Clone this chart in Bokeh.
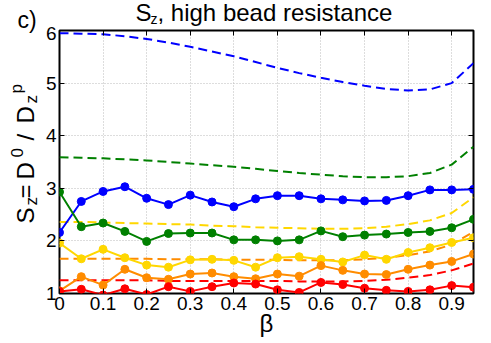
import math
from bokeh.plotting import figure
from bokeh.models import Label, LinearAxis, FixedTicker
from bokeh.layouts import row, column
from bokeh.embed import file_html
from bokeh.resources import INLINE

# ---------------- data ----------------
beta = [0.0, 0.05, 0.1, 0.15, 0.2, 0.25, 0.3, 0.35, 0.4, 0.45,
        0.5, 0.55, 0.6, 0.65, 0.7, 0.75, 0.8, 0.85, 0.9, 0.95]

# simulation (solid lines with markers)
blue_sim = [2.16, 2.75, 2.94, 3.03, 2.81, 2.69, 2.87, 2.74, 2.65, 2.80,
            2.86, 2.86, 2.80, 2.78, 2.76, 2.77, 2.86, 2.97, 2.97, 2.98]
green_sim = [2.93, 2.27, 2.34, 2.18, 1.99, 2.14, 2.15, 2.15, 2.02, 2.02,
             2.00, 2.02, 2.19, 2.08, 2.11, 2.13, 2.16, 2.18, 2.25, 2.41]
yellow_sim = [1.96, 1.66, 1.84, 1.68, 1.54, 1.50, 1.64, 1.65, 1.63, 1.50,
              1.68, 1.70, 1.65, 1.60, 1.73, 1.65, 1.78, 1.87, 1.97, 2.06]
orange_sim = [1.05, 1.32, 1.16, 1.46, 1.30, 1.27, 1.37, 1.39, 1.32, 1.28,
              1.37, 1.33, 1.53, 1.44, 1.37, 1.36, 1.46, 1.54, 1.61, 1.75]
red_sim = [1.04, 1.08, 0.97, 1.09, 0.98, 1.13, 1.04, 1.13, 1.20, 1.18,
           1.07, 1.02, 1.21, 1.17, 1.10, 1.06, 1.04, 1.07, 1.15, 1.12]

# theory (dashed lines)
blue_th = [5.95, 5.94, 5.93, 5.89, 5.84, 5.77, 5.69, 5.60, 5.51, 5.40,
           5.29, 5.19, 5.10, 5.02, 4.95, 4.89, 4.86, 4.88, 5.00, 5.38]
green_th = [3.59, 3.58, 3.57, 3.55, 3.53, 3.50, 3.47, 3.44, 3.41, 3.37,
            3.33, 3.29, 3.26, 3.23, 3.21, 3.21, 3.23, 3.29, 3.45, 3.79]
yellow_th = [2.36, 2.36, 2.35, 2.34, 2.33, 2.32, 2.31, 2.29, 2.28, 2.26,
             2.25, 2.24, 2.23, 2.23, 2.24, 2.27, 2.32, 2.39, 2.53, 2.83]
orange_th = [1.66, 1.66, 1.66, 1.66, 1.66, 1.65, 1.65, 1.65, 1.64, 1.64,
             1.64, 1.63, 1.63, 1.63, 1.65, 1.68, 1.73, 1.80, 1.93, 2.17]
red_th = [1.25, 1.25, 1.25, 1.25, 1.25, 1.24, 1.24, 1.24, 1.24, 1.24,
          1.24, 1.23, 1.23, 1.23, 1.24, 1.26, 1.30, 1.35, 1.44, 1.57]

x_ticks = [0.0, 0.1, 0.2, 0.3, 0.4, 0.5, 0.6, 0.7, 0.8, 0.9]
x_tick_labels = ["0", "0.1", "0.2", "0.3", "0.4", "0.5", "0.6", "0.7", "0.8", "0.9"]
y_ticks = [1, 2, 3, 4, 5, 6]
y_tick_labels = ["1", "2", "3", "4", "5", "6"]

colors = ["#0000ff", "#008000", "#ffd700", "#ff8c00", "#ff0000"]
sims = [blue_sim, green_sim, yellow_sim, orange_sim, red_sim]
theories = [blue_th, green_th, yellow_th, orange_th, red_th]

FONT = "Liberation Sans"

# layout geometry (page px)
LEFT_W = 41
TOP_H = 26
W, H = 491, 343
BL, BR = 18, 18          # main figure left / right borders
MID = 0.347              # middle-anchor -> baseline offset (em)

# ---------------- main figure ----------------
p = figure(width=W - LEFT_W, height=H - TOP_H, x_range=(0, 0.95), y_range=(1, 6),
           output_backend="svg", toolbar_location=None,
           min_border_left=BL, min_border_right=BR, min_border_top=30 - TOP_H,
           min_border_bottom=50)
p.background_fill_color = "white"
p.border_fill_color = "white"
p.outline_line_color = "black"
p.outline_line_width = 2
p.outline_line_alpha = 1.0

for ax, ticks, labels in ((p.xaxis[0], x_ticks, x_tick_labels), (p.yaxis[0], y_ticks, y_tick_labels)):
    ax.ticker = FixedTicker(ticks=ticks)
    ax.major_label_overrides = {t: l for t, l in zip(ticks, labels)}
    ax.major_tick_in = 5
    ax.major_tick_out = 0
    ax.major_tick_line_color = "black"
    ax.minor_tick_line_color = None
    ax.axis_line_color = None
    ax.major_label_text_font = FONT
    ax.major_label_text_font_size = "19px"
    ax.major_label_text_color = "black"
p.xaxis[0].major_label_standoff = 3
p.yaxis[0].major_label_standoff = 3
p.xaxis[0].axis_label = "\u03b2"
p.xaxis[0].axis_label_text_font = FONT
p.xaxis[0].axis_label_text_font_size = "24px"
p.xaxis[0].axis_label_text_font_style = "normal"
p.xaxis[0].axis_label_text_color = "black"
p.xaxis[0].axis_label_standoff = -3

for place, ticks in (("above", x_ticks), ("right", y_ticks)):
    ax = LinearAxis(ticker=FixedTicker(ticks=ticks), major_label_text_font_size="1px",
                    major_label_text_color=None, major_tick_in=5, major_tick_out=0,
                    minor_tick_line_color=None, axis_line_color=None,
                    major_label_standoff=0, major_tick_line_color="black")
    p.add_layout(ax, place)

for g in (p.xgrid[0], p.ygrid[0]):
    g.grid_line_color = "#bbbbbb"
    g.grid_line_dash = "1 2"
    g.grid_line_width = 1
p.xgrid[0].ticker = FixedTicker(ticks=x_ticks)
p.ygrid[0].ticker = FixedTicker(ticks=y_ticks)

# theory dashed lines
for c, th in zip(colors, theories):
    p.line(beta, th, line_color=c, line_width=2, line_dash="9 5")

# simulation lines + markers
for c, s in zip(colors, sims):
    p.line(beta, s, line_color=c, line_width=2)
    p.scatter(beta, s, size=8, marker="circle", fill_color=c, line_color=c)

# ---------------- helper text panels ----------------
def text_panel(w, h, bl=0, br=0):
    f = figure(width=w, height=h, x_range=(0, 1), y_range=(0, 1),
               x_axis_type=None, y_axis_type=None, output_backend="svg",
               toolbar_location=None, min_border=0,
               min_border_left=bl, min_border_right=br, min_border_top=0, min_border_bottom=0)
    f.outline_line_color = None
    f.background_fill_color = "white"
    f.border_fill_color = "white"
    return f

def lab(fig, text, sx, sy, size, angle=0.0, align="left"):
    fig.add_layout(Label(x=sx, y=sy, x_units="screen", y_units="screen", text=text,
                         text_font=FONT, text_font_size=f"{size}px", text_color="black",
                         angle=angle, text_align=align, text_baseline="middle"))

left = text_panel(LEFT_W, H)
top = text_panel(W - LEFT_W, TOP_H, BL, BR)

# title: page coords of baseline start -> top panel frame coords
def title_piece(text, px, py_base, size):
    lab(top, text, px - (LEFT_W + BL), TOP_H - (py_base - MID * size), size)

title_piece("S", 135, 20, 24)
title_piece("z", 150, 23, 14)
title_piece(", high bead resistance", 157, 20, 24)

# panel letter
lab(left, "c)", 17, H - (27 - MID * 23), 23)

# rotated y label pieces: (text, baseline x, start y, size)
A = math.pi / 2
def ylab_piece(text, px_base, py_start, size):
    lab(left, text, px_base - MID * size, H - py_start, size, A)

XB, XSUB, XSUP = 33, 37, 22
ylab_piece("S", XB, 223, 24)
ylab_piece("z", XSUB, 205, 17)
ylab_piece("=", XB, 198, 24)
ylab_piece("D", XB, 179, 24)
ylab_piece("0", XSUP, 157, 17)
ylab_piece("/", XB, 140, 24)
ylab_piece("D", XB, 123, 24)
ylab_piece("z", XSUB, 103, 17)
ylab_piece("p", XSUP, 93, 17)

layout = row(left, column(top, p, spacing=0), spacing=0)

open("out.html", "w").write(file_html(layout, INLINE))
